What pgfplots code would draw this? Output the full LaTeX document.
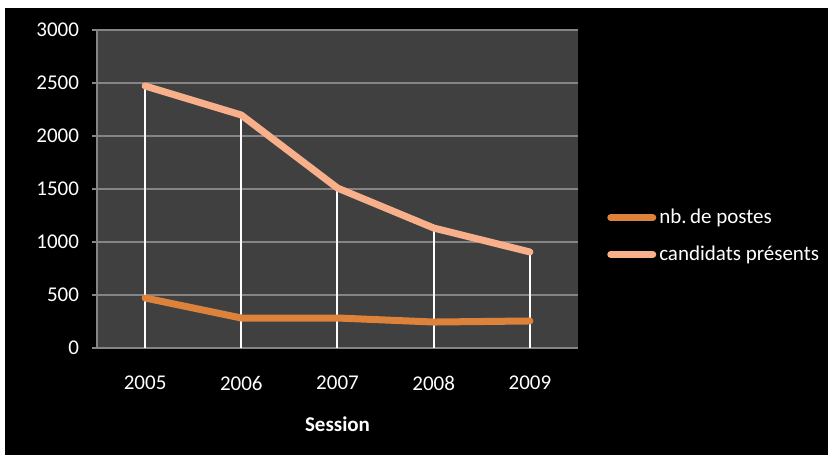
\documentclass[border=0pt]{standalone}
\usepackage{pgfplots}
\pgfplotsset{compat=1.18}
\usepackage{fontspec}
\setmainfont{Carlito}
\definecolor{plotbg}{HTML}{404040}
\definecolor{gridc}{HTML}{858585}
\definecolor{postes}{HTML}{DD823B}
\definecolor{cands}{HTML}{F8B08A}
\begin{document}
\begin{tikzpicture}[x=1pt,y=1pt]
\fill[white] (0,0) rectangle (414.5,228.5);
\fill[black] (2.5,1) rectangle (414,224.5);
\begin{axis}[
  at={(48.5pt,54.5pt)}, anchor=south west,
  scale only axis, width=240.5pt, height=159pt,
  xmin=-0.5, xmax=4.5, ymin=0, ymax=3000,
  xtick={0,1,2,3,4}, xticklabels={2005,2006,2007,2008,2009},
  ytick={0,500,...,3000},
  axis background/.style={fill=plotbg},
  axis x line*=bottom, axis y line*=left,
  axis line style={draw=gridc, line width=0.6pt, -},
  ymajorgrids, grid style={draw=gridc, line width=0.6pt},
  tick align=outside, major tick length=2.5pt,
  xtick style={draw=none},
  ytick style={draw=gridc, line width=0.6pt},
  /pgf/number format/assume math mode=true,
  /pgf/number format/set thousands separator={},
  ticklabel style={font=\fontsize{10.5}{12}\selectfont, text=white},
  yticklabel style={xshift=-3pt},
  xticklabel style={yshift=-8pt},
  xlabel={\textbf{Session}},
  xlabel style={font=\fontsize{10.5}{12}\selectfont, text=white, yshift=-6pt},
  legend style={at={(1.06,0.352)}, anchor=west, draw=none, fill=none,
    text=white, font=\fontsize{10.5}{12}\selectfont, row sep=6.5pt,
    inner sep=0pt, nodes={inner sep=1.5pt}},
  legend cell align=left,
  legend image code/.code={\draw[#1] (0pt,0pt) -- (21pt,0pt);},
  clip=false,
]
\addplot[ycomb, draw=white, line width=1pt, forget plot] coordinates {
(0,2472) (1,2198) (2,1509) (3,1132) (4,906)};
\addplot[postes, line width=3.5pt, line cap=round, line join=round, mark=none] coordinates {
(0,472) (1,283) (2,283) (3,245) (4,255)};
\addlegendentry{nb.\,de postes}
\addplot[cands, line width=3.5pt, line cap=round, line join=round, mark=none] coordinates {
(0,2472) (1,2198) (2,1509) (3,1132) (4,906)};
\addlegendentry{candidats présents}
\end{axis}
\end{tikzpicture}
\end{document}
